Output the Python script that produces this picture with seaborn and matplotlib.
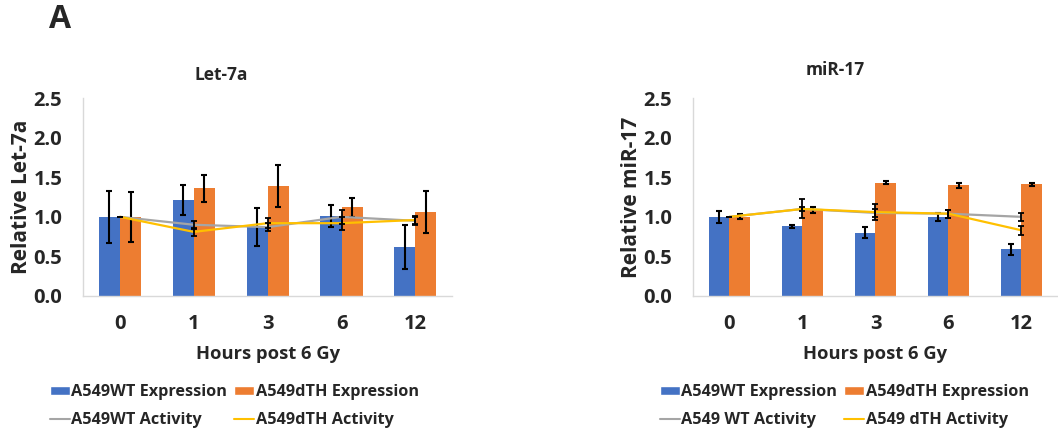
import numpy as np
import pandas as pd
import matplotlib.pyplot as plt
import seaborn as sns
from matplotlib.patches import Patch
from matplotlib.lines import Line2D

sns.set_style("white")
plt.rcParams['font.family'] = ['Open Sans', 'DejaVu Sans']
plt.rcParams['font.weight'] = 'bold'

hours = ["0", "1", "3", "6", "12"]

# Let-7a
let_wt_expr = [1.00, 1.21, 0.87, 1.01, 0.62]
let_wt_expr_err = [0.33, 0.19, 0.24, 0.14, 0.28]
let_dth_expr = [1.00, 1.36, 1.39, 1.12, 1.06]
let_dth_expr_err = [0.32, 0.17, 0.26, 0.12, 0.27]
let_wt_act = [1.00, 0.90, 0.87, 1.00, 0.95]
let_wt_act_err = [0.00, 0.05, 0.05, 0.09, 0.05]
let_dth_act = [1.00, 0.81, 0.92, 0.92, 0.96]
let_dth_act_err = [0.00, 0.05, 0.06, 0.08, 0.05]

# miR-17
mir_wt_expr = [1.00, 0.88, 0.80, 1.00, 0.59]
mir_wt_expr_err = [0.08, 0.02, 0.07, 0.05, 0.07]
mir_dth_expr = [1.00, 1.09, 1.43, 1.40, 1.41]
mir_dth_expr_err = [0.03, 0.04, 0.02, 0.03, 0.02]
mir_wt_act = [1.00, 1.10, 1.05, 1.04, 1.00]
mir_wt_act_err = [0.00, 0.12, 0.05, 0.05, 0.05]
mir_dth_act = [1.00, 1.10, 1.06, 1.04, 0.83]
mir_dth_act_err = [0.00, 0.03, 0.10, 0.05, 0.06]

blue = "#4472C4"
orange = "#ED7D31"
gray = "#A5A5A5"
yellow = "#FFC000"
bar_w = 0.57

fig = plt.figure(figsize=(10.58, 4.33), dpi=100)
ax1 = fig.add_axes([0.0785, 0.3164, 0.349, 0.457])
ax2 = fig.add_axes([0.655, 0.3164, 0.345, 0.457])


def draw_panel(ax, wt, wt_err, dth, dth_err, wt_a, wt_a_err, dth_a, dth_a_err, ylabel):
    df = pd.DataFrame({
        "Hours": hours * 2,
        "Value": wt + dth,
        "Line": ["WT"] * 5 + ["dTH"] * 5,
    })
    sns.barplot(data=df, x="Hours", y="Value", hue="Line", order=hours,
                palette=[blue, orange], errorbar=None, width=bar_w,
                legend=False, ax=ax, saturation=1, linewidth=0)
    idx = np.arange(len(hours))
    off = bar_w / 4
    ax.errorbar(idx - off, wt, yerr=wt_err, fmt="none", ecolor="black",
                elinewidth=1.5, capsize=2.2, capthick=1.5, zorder=5)
    ax.errorbar(idx + off, dth, yerr=dth_err, fmt="none", ecolor="black",
                elinewidth=1.5, capsize=2.2, capthick=1.5, zorder=5)
    sns.lineplot(x=idx, y=wt_a, color=gray, linewidth=1.6, ax=ax, zorder=6)
    sns.lineplot(x=idx, y=dth_a, color=yellow, linewidth=1.6, ax=ax, zorder=6)
    ax.errorbar(idx, wt_a, yerr=wt_a_err, fmt="none", ecolor="black",
                elinewidth=1.3, capsize=2.2, capthick=1.3, zorder=7)
    ax.errorbar(idx, dth_a, yerr=dth_a_err, fmt="none", ecolor="black",
                elinewidth=1.3, capsize=2.2, capthick=1.3, zorder=7)
    ax.set_xlim(-0.5, 4.5)
    ax.set_ylim(0, 2.5)
    ax.set_yticks([0, 0.5, 1.0, 1.5, 2.0, 2.5])
    ax.set_yticklabels(["0.0", "0.5", "1.0", "1.5", "2.0", "2.5"])
    ax.tick_params(axis="both", labelsize=14.5, length=0)
    ax.tick_params(axis="y", pad=15)
    ax.tick_params(axis="x", pad=13)
    for lab in ax.get_xticklabels() + ax.get_yticklabels():
        lab.set_fontweight("bold")
    ax.set_xlabel("Hours post 6 Gy", fontsize=13.2, fontweight="bold", labelpad=8)
    ax.set_ylabel(ylabel, fontsize=15, fontweight="bold", labelpad=1)
    for s in ["top", "right"]:
        ax.spines[s].set_visible(False)
    ax.spines["left"].set_color("#D9D9D9")
    ax.spines["bottom"].set_color("#D9D9D9")
    ax.spines["left"].set_linewidth(1)
    ax.spines["bottom"].set_linewidth(1)


draw_panel(ax1, let_wt_expr, let_wt_expr_err, let_dth_expr, let_dth_expr_err,
           let_wt_act, let_wt_act_err, let_dth_act, let_dth_act_err, "Relative Let-7a")
draw_panel(ax2, mir_wt_expr, mir_wt_expr_err, mir_dth_expr, mir_dth_expr_err,
           mir_wt_act, mir_wt_act_err, mir_dth_act, mir_dth_act_err, "Relative miR-17")

fig.text(60 / 1058, 1 - 20 / 433, "A", fontsize=23, fontweight="bold", ha="center", va="center")
fig.text(221 / 1058, 1 - 75 / 433, "Let-7a", fontsize=12.5, fontweight="bold", ha="center", va="center")
fig.text(835 / 1058, 1 - 70 / 433, "miR-17", fontsize=12.5, fontweight="bold", ha="center", va="center")


def add_legend(x0, labels):
    handles = [Patch(facecolor=blue), Patch(facecolor=orange),
               Line2D([0], [0], color=gray, lw=1.5), Line2D([0], [0], color=yellow, lw=1.5)]
    order = [0, 2, 1, 3]
    leg = fig.legend([handles[i] for i in order], [labels[i] for i in order],
                     loc="upper left", bbox_to_anchor=(x0 / 1058, 1 - 384 / 433),
                     ncol=2, frameon=False, fontsize=11.7, handlelength=1.2,
                     handleheight=0.45, handletextpad=0.1, columnspacing=0.45,
                     labelspacing=0.75, borderaxespad=0, borderpad=0)
    for t in leg.get_texts():
        t.set_fontweight("bold")


add_legend(50, ["A549WT Expression", "A549dTH Expression", "A549WT Activity", "A549dTH Activity"])
add_legend(660, ["A549WT Expression", "A549dTH Expression", "A549 WT Activity", "A549 dTH Activity"])

fig.savefig("out.png", dpi=100)
